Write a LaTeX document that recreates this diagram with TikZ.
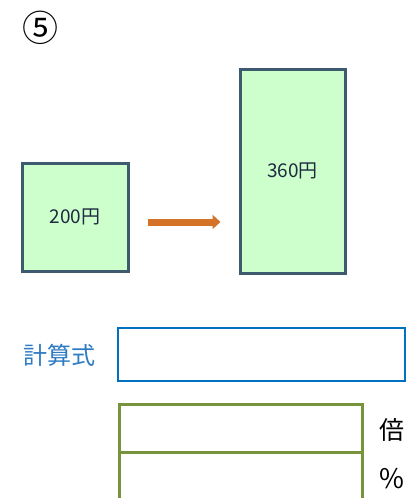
\documentclass[tikz,border=0pt]{standalone}
\usepackage{fontspec}
\setmainfont{Noto Sans CJK JP}
\usetikzlibrary{arrows.meta}
\definecolor{boxline}{HTML}{3E5A6E}
\definecolor{boxfill}{HTML}{CCFFCC}
\definecolor{arrowc}{HTML}{D47328}
\definecolor{calcblue}{HTML}{0070C0}
\definecolor{lblblue}{HTML}{2E7BC4}
\definecolor{olive}{HTML}{77933C}
\definecolor{txt}{HTML}{1F2A40}
\tikzset{
  amountbox/.style={draw=boxline, line width=3pt, fill=boxfill, inner sep=0pt, text=txt, font=\fontsize{19}{19}\selectfont},
  calcbox/.style={draw=calcblue, line width=2.5pt, inner sep=0pt},
  ansbox/.style={draw=olive, line width=3pt, inner sep=0pt},
  flow/.style={draw=arrowc, line width=7pt, -{Triangle[length=8pt,width=14pt]}},
  bigtxt/.style={font=\fontsize{24}{24}\selectfont, inner sep=0pt}
}
\begin{document}
\begin{tikzpicture}[x=1pt,y=-1pt]
\useasboundingbox[fill=white] (0,0) rectangle (409,498);
\node[bigtxt, font=\fontsize{36}{36}\selectfont] (num) at (41,28) {⑤};
\node[amountbox, minimum width=106pt, minimum height=108pt] (lb) at (75,217) {200円};
\node[amountbox, minimum width=105pt, minimum height=204pt] (rb) at (292.5,171) {360円};
\coordinate (as) at ([shift={(18,5)}]lb.east);
\coordinate (ae) at ([xshift=-18pt]as -| rb.west);
\draw[flow] (as) -- (ae);
\node[calcbox, minimum width=287pt, minimum height=53pt] (calc) at (261.5,354.5) {};
\node[bigtxt, text=lblblue, anchor=east] (calclbl) at (96,355) {計算式};
\node[ansbox, minimum width=243pt, minimum height=48pt] (bai) at (240.5,428) {};
\node[ansbox, minimum width=243pt, minimum height=56pt] (pct) at (240.5,480) {};
\node[bigtxt, font=\fontsize{25}{25}\selectfont] (baiu) at (392,430) {倍};
\node[bigtxt, font=\fontsize{27}{27}\selectfont] (pctu) at (392,479) {\%};
\end{tikzpicture}
\end{document}
